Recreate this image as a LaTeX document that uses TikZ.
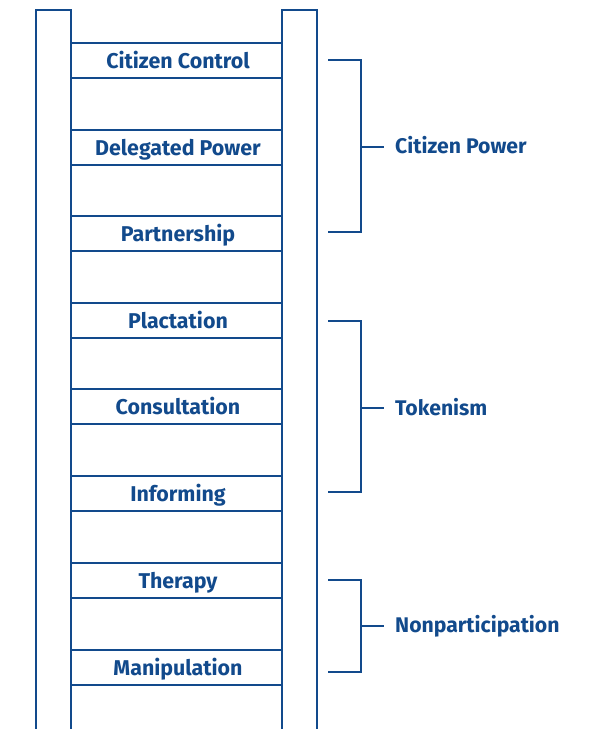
\documentclass[tikz,border=0pt]{standalone}
\usepackage{fontspec}
\setmainfont{Fira Sans}
\definecolor{navy}{RGB}{18,74,140}
\begin{document}
\begin{tikzpicture}[x=1pt,y=-1pt,
  ln/.style={draw=navy,line width=2pt},
  rung/.style={font=\bfseries\fontsize{21.4}{24}\selectfont,text=navy,anchor=base,inner sep=0pt},
  grp/.style={font=\bfseries\fontsize{21.2}{24}\selectfont,text=navy,anchor=base west,inner sep=0pt}]
\useasboundingbox (0,0) rectangle (594,729);
% rails
\draw[ln] (36,729) -- (36,10) -- (71,10) -- (71,729);
\draw[ln] (282,729) -- (282,10) -- (317,10) -- (317,729);
% rungs
\foreach \t/\b in {43/78,129.5/164.5,216/251,302.5/337.5,389/424,476/511,563/598,649.5/684.5}{
  \draw[ln] (71,\t) -- (282,\t);
  \draw[ln] (71,\b) -- (282,\b);
}
\node[rung] (cc) at (178,68) {Citizen Control};
\node[rung] (dp) at (178,155) {Delegated Power};
\node[rung] (pa) at (178,241.5) {Partnership};
\node[rung] (pl) at (178,328) {Plactation};
\node[rung] (co) at (178,414.5) {Consultation};
\node[rung] (in) at (178,501.5) {Informing};
\node[rung] (th) at (178,588.5) {Therapy};
\node[rung] (ma) at (178,675) {Manipulation};
% groups
\node[grp] (cp) at (395,153.5) {Citizen Power};
\node[grp] (tk) at (395,415) {Tokenism};
\node[grp] (np) at (395,632.5) {Nonparticipation};
\coordinate (cpA) at (328,60);
\coordinate (cpB) at (328,232);
\coordinate (tkA) at (328,321);
\coordinate (tkB) at (328,492);
\coordinate (npA) at (328,580);
\coordinate (npB) at (328,672);
\draw[ln] (cpA) -- (361,60) -- (361,232) -- (cpB);
\draw[ln] (361,146.5) -- (384,146.5);
\draw[ln] (tkA) -- (361,321) -- (361,492) -- (tkB);
\draw[ln] (361,408) -- (384,408);
\draw[ln] (npA) -- (361,580) -- (361,672) -- (npB);
\draw[ln] (361,625.5) -- (384,625.5);
\end{tikzpicture}
\end{document}
